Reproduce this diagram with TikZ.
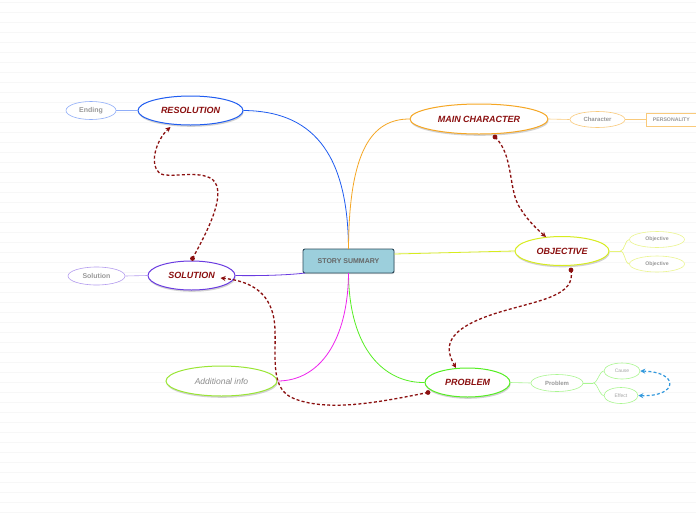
\documentclass[tikz,border=0pt]{standalone}
\usepackage{fontspec}
\setmainfont{Liberation Sans}
\usetikzlibrary{shapes.geometric,arrows.meta,shadows}
\definecolor{dred}{HTML}{8B1010}
\definecolor{cblue}{HTML}{1F5CF0}
\definecolor{corange}{HTML}{F5A623}
\definecolor{cyel}{HTML}{D7EC1F}
\definecolor{cgreen}{HTML}{55EE22}
\definecolor{cmag}{HTML}{EE22EE}
\definecolor{cpurp}{HTML}{6A3BE0}
\definecolor{clgreen}{HTML}{99E633}
\definecolor{cfill}{HTML}{9CCFDC}
\definecolor{cedge}{HTML}{2D4A5A}
\definecolor{ctxt}{HTML}{999999}
\definecolor{cdash}{HTML}{3399DD}
\begin{document}
\begin{tikzpicture}[x=1pt,y=-1pt,
  mainell/.style={ellipse,draw,line width=1pt,fill=white,inner sep=0pt,
    font=\fontsize{9}{10}\selectfont\bfseries\itshape,text=dred,
    drop shadow={shadow xshift=0.6pt,shadow yshift=-1.8pt,opacity=0.35}},
  subell/.style={ellipse,draw,line width=0.6pt,fill=white,inner sep=0pt,
    font=\fontsize{6}{7}\selectfont\bfseries,text=ctxt},
  reldash/.style={draw=dred,line width=1.3pt,dash pattern=on 3pt off 2.2pt,
    arrows={-Stealth[length=5pt,width=5pt]}},
  reldot/.style={fill=dred},
  bline/.style={line width=0.8pt}]
\useasboundingbox (0,0) rectangle (696,520);
\fill[white] (0,0) rectangle (696,520);
\foreach \yy in {2,12,...,512} \draw[black!3,line width=0.6pt] (0,\yy) -- (696,\yy);

% nodes
\node[rectangle,rounded corners=2pt,draw=cedge,line width=0.9pt,fill=cfill,
  minimum width=91pt,minimum height=24pt,inner sep=0pt,
  font=\fontsize{7}{8}\selectfont\bfseries,text=black!60,
  drop shadow={shadow xshift=0.6pt,shadow yshift=-1pt,opacity=0.3}] (c) at (348.5,261) {STORY SUMMARY};

\node[mainell,draw=corange,minimum width=138pt,minimum height=30pt] (mc) at (479,119) {MAIN CHARACTER};
\node[subell,draw=corange!60,minimum width=55pt,minimum height=16pt] (ch) at (597.5,119.5) {Character};
\node[rectangle,draw=corange!60,line width=0.6pt,fill=white,minimum width=50pt,minimum height=13pt,inner sep=0pt,
  font=\fontsize{5.2}{6}\selectfont\bfseries,text=ctxt,anchor=west] (pe) at (646,119.5) {PERSONALITY};

\node[mainell,draw=cyel,minimum width=94pt,minimum height=29pt] (ob) at (562,251) {OBJECTIVE};
\node[subell,draw=cyel!50,minimum width=55pt,minimum height=16pt,font=\fontsize{5.2}{6}\selectfont\bfseries] (o1) at (657,239.5) {Objective};
\node[subell,draw=cyel!50,minimum width=55pt,minimum height=16pt,font=\fontsize{5.2}{6}\selectfont\bfseries] (o2) at (657,264) {Objective};

\node[mainell,draw=cgreen,minimum width=85pt,minimum height=29pt] (pr) at (467.5,382.5) {PROBLEM};
\node[subell,draw=cgreen!50,minimum width=52pt,minimum height=17pt] (pb) at (557,383) {Problem};
\node[subell,draw=cgreen!50,minimum width=36pt,minimum height=16pt,font=\fontsize{5}{6}\selectfont,text=black!35] (ca) at (622,371) {Cause};
\node[subell,draw=cgreen!50,minimum width=34pt,minimum height=16pt,font=\fontsize{5}{6}\selectfont,text=black!35] (ef) at (621,395.5) {Effect};

\node[mainell,draw=cblue,minimum width=105pt,minimum height=29pt] (re) at (190.5,110.5) {RESOLUTION};
\node[subell,draw=cblue!50,minimum width=50pt,minimum height=18pt,font=\fontsize{7}{8}\selectfont\bfseries] (en) at (91,110.5) {Ending};

\node[mainell,draw=cpurp,minimum width=87pt,minimum height=29pt] (so) at (191.5,275.5) {SOLUTION};
\node[subell,draw=cpurp!50,minimum width=57pt,minimum height=18pt,font=\fontsize{7}{8}\selectfont\bfseries] (sl) at (96.5,276) {Solution};

\node[mainell,draw=clgreen,minimum width=111pt,minimum height=30pt,
  font=\fontsize{8.5}{9}\selectfont\itshape,text=black!45] (ad) at (221.5,381) {Additional info};

% main connectors
\draw[bline,cblue] (348.5,249) .. controls (348,150) and (310,111) .. (re.east);
\draw[bline,corange] (348.5,249) .. controls (349,150) and (372,119) .. (mc.west);
\draw[bline,cyel] (c.east|-0,254) -- (ob.west);
\draw[bline,cgreen] (348.5,273) .. controls (349,350) and (385,383) .. (pr.west);
\draw[bline,cmag] (348.5,273) .. controls (348,340) and (320,381) .. (ad.east);
\draw[bline,cpurp] (305,273) .. controls (290,275) and (260,276) .. (so.east);

% sub connectors
\draw[line width=0.6pt,cblue!50] (en.east) -- (re.west);
\draw[line width=0.6pt,cpurp!50] (sl.east) -- (so.west);
\draw[line width=0.6pt,corange!60] (mc.east) -- (ch.west);
\draw[line width=0.6pt,corange!60] (ch.east) -- (pe.west);
\draw[line width=0.6pt,cyel!60] (ob.east) -- ++(11,0) coordinate (obk);
\draw[line width=0.6pt,cyel!60] (obk) .. controls ++(4,0) and ++(-4,0) .. (o1.west);
\draw[line width=0.6pt,cyel!60] (obk) .. controls ++(4,0) and ++(-4,0) .. (o2.west);
\draw[line width=0.6pt,cgreen!50] (pr.east) -- (pb.west);
\draw[line width=0.6pt,cgreen!50] (pb.east) -- ++(10,0) coordinate (pbk);
\draw[line width=0.6pt,cgreen!50] (pbk) .. controls ++(4,0) and ++(-4,0) .. (ca.west);
\draw[line width=0.6pt,cgreen!50] (pbk) .. controls ++(4,0) and ++(-4,0) .. (ef.west);

% relationship arrows
\coordinate (s1) at (192.5,258.5);
\coordinate (e1) at (170.5,127);
\draw[reldash] (s1) .. controls (208,230) and (228,192) .. (212,179)
  .. controls (198,170) and (172,178) .. (161,174)
  .. controls (148,166) and (156,140) .. (e1);
\fill[reldot] (s1) circle (2.4pt);
\coordinate (s2) at (495,137);
\coordinate (e2) at (546,237);
\draw[reldash] (s2) .. controls (514,155) and (508,190) .. (520,208)
  .. controls (528,221) and (538,230) .. (e2);
\fill[reldot] (s2) circle (2.4pt);
\coordinate (s3) at (571,270);
\coordinate (e3) at (456,368);
\draw[reldash] (s3) .. controls (576,296) and (540,300) .. (500,312)
  .. controls (440,330) and (446,350) .. (e3);
\fill[reldot] (s3) circle (2.4pt);
\coordinate (s4) at (428,392.5);
\coordinate (e4) at (220.5,278);
\draw[reldash] (s4) .. controls (380,402) and (330,412) .. (295,399)
  .. controls (270,390) and (276,360) .. (275,330)
  .. controls (274,292) and (250,281) .. (e4);
\fill[reldot] (s4) circle (2.4pt);
\draw[draw=cdash,line width=1.2pt,dash pattern=on 3pt off 2.2pt,
  arrows={Stealth[length=5pt,width=5pt]-Stealth[length=5pt,width=5pt]}]
  (ef.east) .. controls (678,397) and (680,372) .. (ca.east);
\end{tikzpicture}
\end{document}
